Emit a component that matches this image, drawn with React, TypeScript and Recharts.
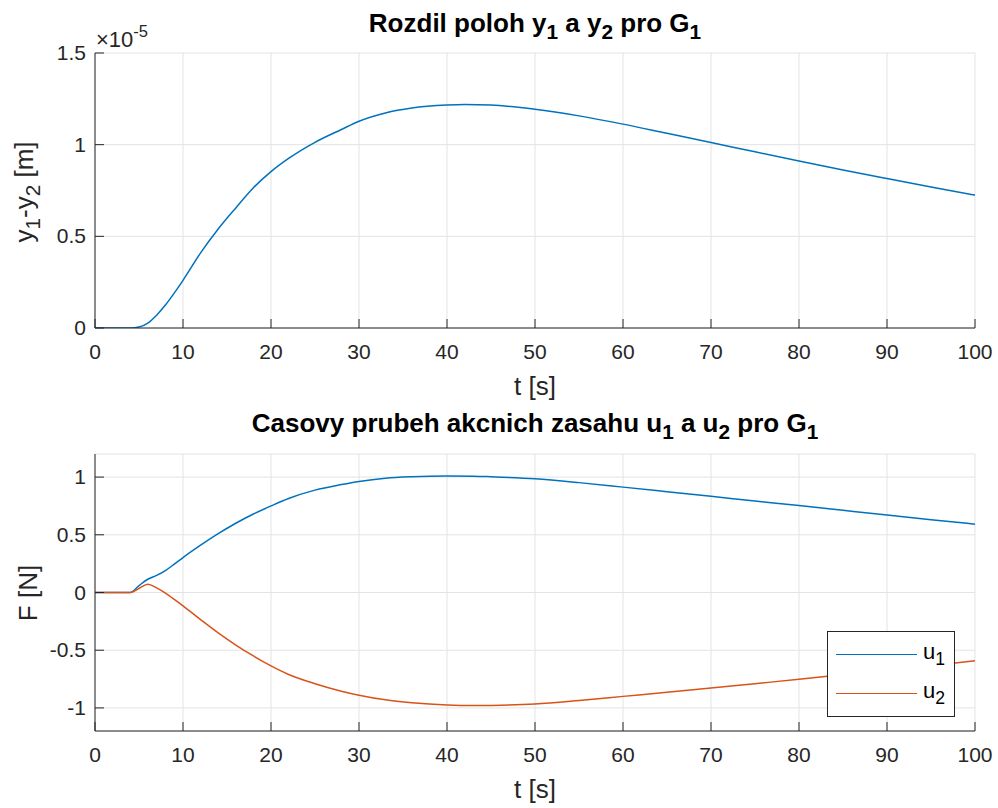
import React from 'react';
import { LineChart, Line, XAxis, YAxis, CartesianGrid } from 'recharts';

// time axis [s]
const tTop = [0, 2, 4, 5, 6, 7, 8, 9, 10, 12, 14, 16, 18, 20, 22, 25, 28, 30, 33, 36, 40, 42, 45, 50, 55, 60, 65, 70, 75, 80, 85, 90, 95, 100];
// y1 - y2 in units of 1e-5 m
const dy = [0, 0, 0, 0.005, 0.027, 0.07, 0.125, 0.19, 0.26, 0.41, 0.54, 0.655, 0.765, 0.853, 0.925, 1.013, 1.083, 1.128, 1.173, 1.2, 1.216, 1.219, 1.216, 1.193, 1.157, 1.112, 1.062, 1.012, 0.961, 0.911, 0.862, 0.815, 0.769, 0.725];

const tBot = [0, 2, 4, 5, 6, 7, 8, 9, 10, 12, 14, 16, 18, 20, 22, 25, 28, 30, 33, 36, 40, 43, 45, 50, 55, 60, 65, 70, 75, 80, 85, 90, 95, 100];
const u1 = [0, 0, 0, 0.06, 0.115, 0.148, 0.19, 0.245, 0.303, 0.41, 0.51, 0.6, 0.68, 0.75, 0.815, 0.887, 0.935, 0.962, 0.99, 1.003, 1.01, 1.008, 1.003, 0.985, 0.952, 0.913, 0.873, 0.833, 0.793, 0.753, 0.712, 0.671, 0.631, 0.592];
const u2 = [0, 0, 0, 0.035, 0.072, 0.04, -0.005, -0.06, -0.116, -0.235, -0.35, -0.455, -0.55, -0.636, -0.71, -0.79, -0.855, -0.89, -0.93, -0.955, -0.975, -0.98, -0.978, -0.965, -0.935, -0.9, -0.865, -0.828, -0.79, -0.752, -0.712, -0.672, -0.632, -0.592];

const xTicks = [0, 10, 20, 30, 40, 50, 60, 70, 80, 90, 100];
const yTicksTop = [0, 0.5, 1, 1.5];
const yTicksBot = [-1, -0.5, 0, 0.5, 1];

const topData = tTop.map((t, i) => ({ t, dy: dy[i] }));
const botData = tBot.map((t, i) => ({ t, u1: u1[i], u2: u2[i] }));

const FONT = '"Liberation Sans", Arial, Helvetica, sans-serif';
const AX = '#262626';
const GRID = '#e3e3e3';
const BLUE = '#0072BD';
const ORANGE = '#D95319';
const TICK_FS = 21;
const LABEL_FS = 26;

const BottomTick = ({ x, y, payload }: any) => (
  <g>
    <line x1={x} x2={x} y1={y} y2={y - 9} stroke={AX} />
    <text x={x} y={y + 31} textAnchor="middle" fontSize={TICK_FS} fill={AX} fontFamily={FONT}>{String(payload.value)}</text>
  </g>
);
const TopTick = ({ x, y }: any) => <line x1={x} x2={x} y1={y} y2={y + 9} stroke={AX} />;
const LeftTick = ({ x, y, payload }: any) => (
  <g>
    <line x1={x} x2={x + 9} y1={y} y2={y} stroke={AX} />
    <text x={x - 9} y={y + 7} textAnchor="end" fontSize={TICK_FS} fill={AX} fontFamily={FONT}>{String(payload.value)}</text>
  </g>
);
const RightTick = ({ x, y }: any) => <line x1={x} x2={x - 9} y1={y} y2={y} stroke={AX} />;

const Sub = ({ children }: { children: React.ReactNode }) => (
  <span style={{ fontSize: '0.8em', position: 'relative', top: '0.35em' }}>{children}</span>
);

function Axes({ yTicks, yDomain }: { yTicks: number[]; yDomain: [number, number] }) {
  return (
    <>
      <CartesianGrid stroke={GRID} strokeWidth={1} />
      <XAxis dataKey="t" type="number" domain={[0, 100]} ticks={xTicks} tickSize={0} tickMargin={0} tickLine={false}
        height={30} axisLine={{ stroke: AX }} tick={<BottomTick />} interval={0} />
      <XAxis xAxisId="top" orientation="top" dataKey="t" type="number" domain={[0, 100]} ticks={xTicks} tickSize={0}
        tickMargin={0} tickLine={false} height={0} axisLine={{ stroke: AX }} tick={<TopTick />} interval={0} />
      <YAxis type="number" domain={yDomain} ticks={yTicks} tickSize={0} tickMargin={0} tickLine={false} width={95}
        axisLine={{ stroke: AX }} tick={<LeftTick />} interval={0} allowDataOverflow />
      <YAxis yAxisId="right" orientation="right" type="number" domain={yDomain} ticks={yTicks} tickSize={0} tickMargin={0}
        tickLine={false} width={0} axisLine={{ stroke: AX }} tick={<RightTick />} interval={0} />
    </>
  );
}

export default function App() {
  const txt: React.CSSProperties = { position: 'absolute', fontFamily: FONT, color: '#000', whiteSpace: 'nowrap', lineHeight: 1 };
  return (
    <div style={{ position: 'absolute', left: 0, top: 0, width: 998, height: 808, background: '#fff', fontFamily: FONT }}>
      <div style={{ position: 'absolute', left: 0, top: 0 }}>
        <LineChart width={998} height={400} data={topData} margin={{ top: 53, right: 23, bottom: 42, left: 0 }}>
          {Axes({ yTicks: yTicksTop, yDomain: [0, 1.5] })}
          <Line type="monotone" dataKey="dy" stroke={BLUE} strokeWidth={1.5} dot={false} isAnimationActive={false} />
        </LineChart>
      </div>
      <div style={{ position: 'absolute', left: 0, top: 400 }}>
        <LineChart width={998} height={408} data={botData} margin={{ top: 54, right: 23, bottom: 47, left: 0 }}>
          {Axes({ yTicks: yTicksBot, yDomain: [-1.2, 1.2] })}
          <Line type="monotone" dataKey="u1" stroke={BLUE} strokeWidth={1.5} dot={false} isAnimationActive={false} />
          <Line type="monotone" dataKey="u2" stroke={ORANGE} strokeWidth={1.5} dot={false} isAnimationActive={false} />
        </LineChart>
      </div>

      {/* titles */}
      <div style={{ ...txt, left: 535, top: 10, transform: 'translateX(-50%)', fontSize: LABEL_FS, fontWeight: 'bold' }}>
        Rozdil poloh y<Sub>1</Sub> a y<Sub>2</Sub> pro G<Sub>1</Sub>
      </div>
      <div style={{ ...txt, left: 535, top: 410, transform: 'translateX(-50%)', fontSize: LABEL_FS, fontWeight: 'bold' }}>
        Casovy prubeh akcnich zasahu u<Sub>1</Sub> a u<Sub>2</Sub> pro G<Sub>1</Sub>
      </div>

      {/* exponent */}
      <div style={{ ...txt, left: 96, top: 29, fontSize: 22, color: AX }}>
        ×10<span style={{ fontSize: '0.75em', position: 'relative', top: '-0.6em' }}>-5</span>
      </div>

      {/* axis labels */}
      <div style={{ ...txt, left: 535, top: 373, transform: 'translateX(-50%)', fontSize: LABEL_FS, color: AX }}>t [s]</div>
      <div style={{ ...txt, left: 535, top: 776, transform: 'translateX(-50%)', fontSize: LABEL_FS, color: AX }}>t [s]</div>
      <div style={{ ...txt, left: 24, top: 192, transform: 'translate(-50%,-50%) rotate(-90deg)', fontSize: LABEL_FS, color: AX }}>
        y<Sub>1</Sub>-y<Sub>2</Sub> [m]
      </div>
      <div style={{ ...txt, left: 28, top: 593, transform: 'translate(-50%,-50%) rotate(-90deg)', fontSize: LABEL_FS, color: AX }}>
        F [N]
      </div>

      {/* legend */}
      <div style={{ position: 'absolute', left: 827, top: 631, width: 126, height: 84, border: `1px solid ${AX}`, background: '#fff' }}>
        <div style={{ position: 'absolute', left: 8, top: 22, width: 81, height: 0, borderTop: `1.5px solid ${BLUE}` }} />
        <div style={{ position: 'absolute', left: 8, top: 61, width: 81, height: 0, borderTop: `1.5px solid ${ORANGE}` }} />
        <div style={{ ...txt, left: 95, top: 9, fontSize: 22 }}>u<Sub>1</Sub></div>
        <div style={{ ...txt, left: 95, top: 48, fontSize: 22 }}>u<Sub>2</Sub></div>
      </div>
    </div>
  );
}
